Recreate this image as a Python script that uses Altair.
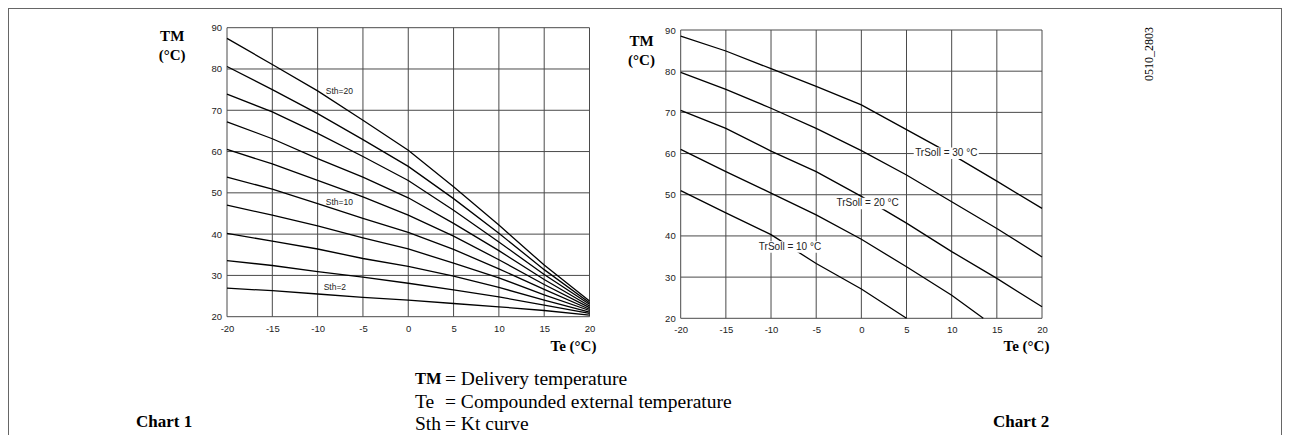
import altair as alt
import pandas as pd

# ---------------- data ----------------
te = [-20, -15, -10, -5, 0, 5, 10, 15, 20]
x_ticks = [-20, -15, -10, -5, 0, 5, 10, 15, 20]
y_ticks = [20, 30, 40, 50, 60, 70, 80, 90]

# Chart 1: Kt curves (Sth)
sth_names = ["20", "18", "16", "14", "12", "10", "8", "6", "4", "2"]
sth20 = [87.4, 81.1, 74.7, 67.6, 60.3, 51.5, 42.2, 32.5, 23.8]
sth18 = [80.6, 75.0, 69.2, 62.9, 56.4, 48.6, 40.2, 31.4, 23.4]
sth16 = [73.9, 69.6, 64.4, 58.8, 53.0, 45.8, 38.1, 30.2, 23.0]
sth14 = [67.2, 63.1, 58.3, 53.8, 48.8, 42.6, 36.0, 29.0, 22.6]
sth12 = [60.5, 57.0, 53.0, 49.0, 44.6, 39.5, 33.8, 27.8, 22.2]
sth10 = [53.8, 50.9, 47.4, 43.8, 40.4, 36.3, 31.6, 26.6, 21.8]
sth8 = [47.0, 44.6, 42.0, 39.1, 36.4, 33.0, 29.4, 25.3, 21.5]
sth6 = [40.2, 38.3, 36.4, 34.1, 32.2, 29.8, 27.1, 24.0, 21.1]
sth4 = [33.6, 32.4, 30.9, 29.6, 28.1, 26.5, 24.8, 22.8, 20.8]
sth2 = [26.9, 26.3, 25.5, 24.7, 24.0, 23.2, 22.4, 21.5, 20.4]
sth_series = [sth20, sth18, sth16, sth14, sth12, sth10, sth8, sth6, sth4, sth2]

sth_labels = ["Sth=20", "Sth=10", "Sth=2"]
sth_label_x = [-7.6, -7.6, -8.1]
sth_label_y = [74.7, 47.9, 27.1]

# Chart 2: TrSoll curves
tr_names = ["30", "25", "20", "15", "10"]
tr30_x = [-20, -15, -10, -5, 0, 5, 10, 15, 20]
tr30 = [88.5, 84.9, 80.6, 76.3, 71.8, 65.8, 59.8, 53.3, 46.7]
tr25_x = [-20, -15, -10, -5, 0, 5, 10, 15, 20]
tr25 = [79.7, 75.6, 71.0, 66.1, 60.7, 54.8, 48.3, 41.8, 34.9]
tr20_x = [-20, -15, -10, -5, 0, 5, 10, 15, 20]
tr20 = [70.5, 66.1, 60.6, 55.6, 49.6, 43.1, 36.2, 29.7, 22.8]
tr15_x = [-20, -15, -10, -5, 0, 5, 10, 13.5]
tr15 = [61.0, 55.6, 50.4, 45.1, 39.2, 32.5, 25.6, 20.0]
tr10_x = [-20, -15, -10, -5, 0, 5]
tr10 = [51.0, 45.6, 40.3, 33.3, 27.1, 20.0]
tr_xs = [tr30_x, tr25_x, tr20_x, tr15_x, tr10_x]
tr_ys = [tr30, tr25, tr20, tr15, tr10]

tr_labels = ["TrSoll = 30 °C", "TrSoll = 20 °C", "TrSoll = 10 °C"]
tr_label_x = [9.4, 0.7, -7.9]
tr_label_y = [60.1, 47.9, 37.3]

# ---------------- tables ----------------
curves1 = pd.DataFrame(
    [{"x": xv, "y": yv, "curve": n} for n, s in zip(sth_names, sth_series) for xv, yv in zip(te, s)]
)
curves2 = pd.DataFrame(
    [{"x": xv, "y": yv, "curve": n} for n, xs, ys in zip(tr_names, tr_xs, tr_ys) for xv, yv in zip(xs, ys)]
)
vgrid = pd.DataFrame({"x": x_ticks, "y": [y_ticks[0]] * len(x_ticks), "y2": [y_ticks[-1]] * len(x_ticks)})
hgrid = pd.DataFrame({"y": y_ticks, "x": [x_ticks[0]] * len(y_ticks), "x2": [x_ticks[-1]] * len(y_ticks)})
lab1 = pd.DataFrame({"x": sth_label_x, "y": sth_label_y, "label": sth_labels})
lab2 = pd.DataFrame({"x": tr_label_x, "y": tr_label_y, "label": tr_labels})
HW, HH = 3.6, 1.4
box2 = pd.DataFrame({
    "x": [v - HW for v in tr_label_x], "x2": [v + HW for v in tr_label_x],
    "y": [v - HH for v in tr_label_y], "y2": [v + HH for v in tr_label_y],
})

# ---------------- styles ----------------
GRID = "#4a4a4a"
LBL = dict(labelFont="Liberation Sans", labelFontSize=9.5, labelColor="#222",
           grid=False, domain=False, ticks=False, tickSize=0, labelFlush=False,
           labelExpr="toString(datum.value)")
TITLE = dict(titleFont="Liberation Serif", titleFontWeight="bold", titleFontSize=15,
             titleColor="black")


def axes(xr, yr, x_off, y_off, tx_x, tx_y, ty_x, ty_y):
    sx = alt.Scale(domain=[-20, 20], range=xr, nice=False, zero=False)
    sy = alt.Scale(domain=[20, 90], range=yr, nice=False, zero=False)
    ax = alt.Axis(orient="bottom", values=x_ticks, offset=x_off, labelPadding=11.5,
                  labelBaseline="middle", labelAlign="center", title="Te (°C)",
                  titleX=tx_x, titleY=tx_y, titleAlign="center", titleBaseline="middle",
                  **LBL, **TITLE)
    ay = alt.Axis(orient="left", values=y_ticks, offset=y_off, labelPadding=5.5,
                  labelAlign="right", labelBaseline="middle", title=["TM", "(°C)"],
                  titleAngle=0, titleX=ty_x, titleY=ty_y, titleAlign="center",
                  titleBaseline="top", titleLineHeight=19, **LBL, **TITLE)
    X = alt.X("x:Q", scale=sx, axis=ax)
    Y = alt.Y("y:Q", scale=sy, axis=ay)
    return X, Y


X1, Y1 = axes([219.0, 581.5], [308.7, 19.7], 0, -219.0, 565, 28.5, -55.3, 20)
X2, Y2 = axes([672.7, 1034.0], [310.3, 22.0], 1.6, -672.7, 1018, 27, -39.7, 25.5)

# ---------------- chart 1 ----------------
c1 = alt.layer(
    alt.Chart(vgrid).mark_rule(color=GRID, strokeWidth=1).encode(x=X1, y=Y1, y2="y2:Q"),
    alt.Chart(hgrid).mark_rule(color=GRID, strokeWidth=1).encode(y=Y1, x=X1, x2="x2:Q"),
    alt.Chart(curves1).mark_line(color="black", strokeWidth=1.3).encode(x=X1, y=Y1, detail="curve:N"),
    alt.Chart(lab1).mark_text(font="Liberation Sans", fontSize=8.5, color="#222").encode(
        x=X1, y=Y1, text="label:N"),
)

# ---------------- chart 2 ----------------
c2 = alt.layer(
    alt.Chart(vgrid).mark_rule(color=GRID, strokeWidth=1).encode(x=X2, y=Y2, y2="y2:Q"),
    alt.Chart(hgrid).mark_rule(color=GRID, strokeWidth=1).encode(y=Y2, x=X2, x2="x2:Q"),
    alt.Chart(curves2).mark_line(color="black", strokeWidth=1.3).encode(x=X2, y=Y2, detail="curve:N"),
    alt.Chart(box2).mark_rect(color="white").encode(x=X2, x2="x2:Q", y=Y2, y2="y2:Q"),
    alt.Chart(lab2).mark_text(font="Liberation Sans", fontSize=10, color="#222").encode(
        x=X2, y=Y2, text="label:N"),
)


# ---------------- annotations ----------------
def txt(s, x, y, size, weight="normal", align="left", angle=0, font="Liberation Serif"):
    kw = dict(align=align, baseline="middle", font=font, fontSize=size,
              fontWeight=weight, color="black")
    if angle:
        kw["angle"] = angle
    return alt.Chart(alt.Data(values=[{"t": s}])).mark_text(**kw).encode(
        text="t:N", x=alt.value(x), y=alt.value(y))


def rule(x, x2, y, y2):
    return alt.Chart(alt.Data(values=[{}])).mark_rule(color="#666", strokeWidth=1).encode(
        x=alt.value(x), x2=alt.value(x2), y=alt.value(y), y2=alt.value(y2))


LEG = 19.5
notes = alt.layer(
    txt("TM", 407, 371, 16.5, "bold"),
    txt("= Delivery temperature", 437, 371, LEG),
    txt("Te", 407, 393.5, LEG),
    txt("= Compounded external temperature", 437, 393.5, LEG),
    txt("Sth", 407, 416, LEG),
    txt("= Kt curve", 437, 416, LEG),
    txt("Chart 1", 128, 414, 17, "bold"),
    txt("Chart 2", 985, 414, 17, "bold"),
    txt("0510_2803", 1141, 46, 12, align="center", angle=270),
    rule(0, 1274, 0.5, 0.5),
    rule(0.5, 0.5, 0, 427),
    rule(1273.5, 1273.5, 0, 427),
)

chart = (
    alt.layer(c1, c2, notes)
    .resolve_scale(x="independent", y="independent")
    .properties(
        width=1274,
        height=308.7,
        autosize=alt.AutoSizeParams(type="none"),
        padding={"left": 0, "top": 0, "right": 0, "bottom": 118.3},
    )
    .configure_view(strokeWidth=0)
)

chart.save("out.html", embed_options={"renderer": "svg", "actions": False})
